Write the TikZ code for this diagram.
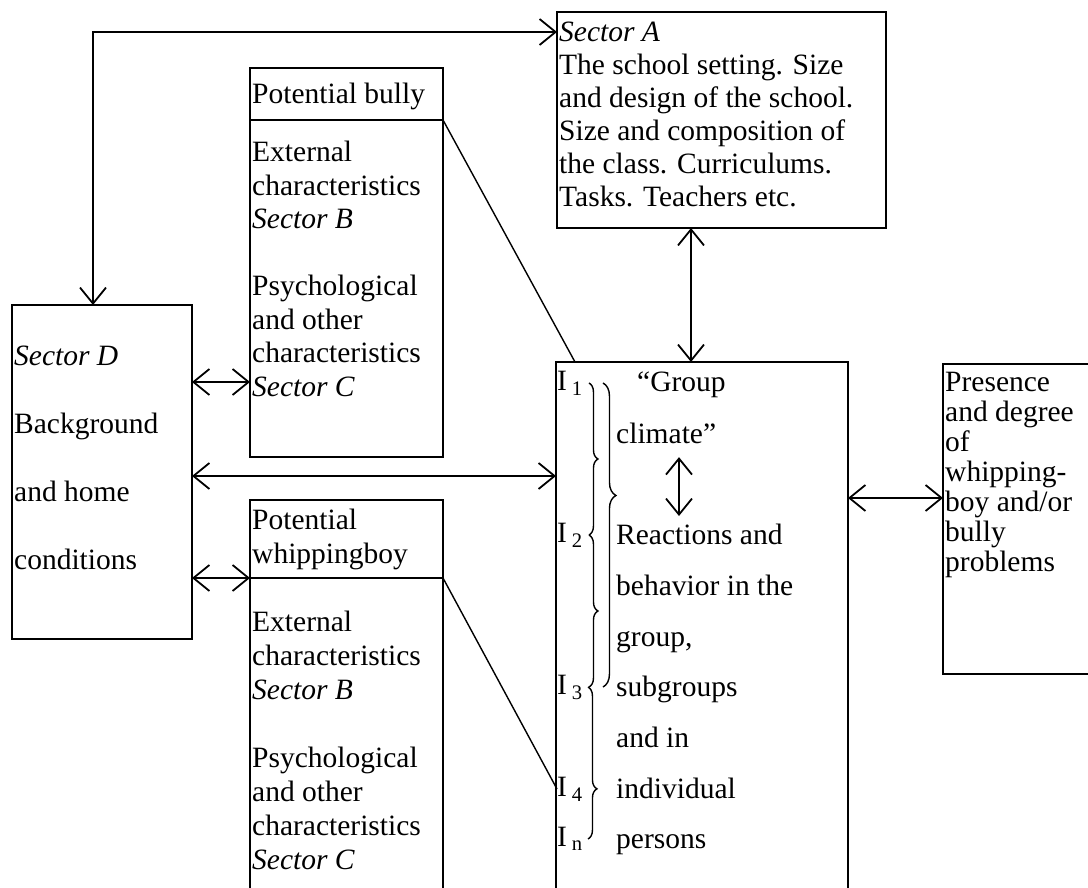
\documentclass[tikz,border=0pt]{standalone}
\usepackage{fontspec}
\setmainfont{Liberation Serif}
\usetikzlibrary{arrows.meta, decorations.pathreplacing}

\tikzset{
  box/.style={draw, line width=2.4pt, inner sep=0pt, outer sep=0pt, anchor=north west},
  txt/.style={inner sep=0pt, anchor=north west, align=left, font=\fontsize{29.5}{#1}\selectfont},
  ilab/.style={inner sep=0pt, anchor=west, font=\fontsize{29.5}{34}\selectfont},
  dbl/.style={{Straight Barb[length=16pt,width=26pt]}-{Straight Barb[length=16pt,width=26pt]}, line width=1.8pt},
  link/.style={line width=1.4pt},
  brc/.style={decorate, decoration={brace, amplitude=#1}, line width=1.4pt},
}

\begin{document}
\begin{tikzpicture}[x=1pt, y=-1pt]
  \useasboundingbox (0,0) rectangle (1088,888);

  \node[box, minimum width=329pt, minimum height=216pt] (secA) at (557,12) {};
  \node[box, minimum width=193pt, minimum height=52pt] (bullyhead) at (250,68) {};
  \node[box, minimum width=193pt, minimum height=337pt] (bullybody) at (250,120) {};
  \node[box, minimum width=193pt, minimum height=78pt] (whiphead) at (250,500) {};
  \node[box, minimum width=193pt, minimum height=330pt] (whipbody) at (250,578) {};
  \node[box, minimum width=180pt, minimum height=334pt] (secD) at (12,305) {};
  \node[box, minimum width=292pt, minimum height=546pt] (central) at (556,362) {};
  \node[box, minimum width=160pt, minimum height=310pt] (result) at (943,364) {};

  \node[txt=33] (secAtxt) at (559,22) {\textit{Sector A}\\The school setting. Size\\and design of the school.\\Size and composition of\\the class. Curriculums.\\Tasks. Teachers etc.};
  \node[txt=34] (bullytitle) at (252,83) {Potential bully};
  \node[txt=33.5] (bullytxt) at (252,141) {External\\characteristics\\\textit{Sector B}\\[33.5pt]Psychological\\and other\\characteristics\\\textit{Sector C}};
  \node[txt=34] (whiptitle) at (252,509) {Potential\\whippingboy};
  \node[txt=34] (whiptxt) at (252,611) {External\\characteristics\\\textit{Sector B}\\[34pt]Psychological\\and other\\characteristics\\\textit{Sector C}};
  \node[txt=68] (secDtxt) at (14,346) {\textit{Sector D}\\Background\\and home\\conditions};
  \node[txt=34] (grp) at (637,372) {“Group};
  \node[txt=34] (clim) at (616,423) {climate”};
  \node[txt=50.7] (react) at (616,524) {Reactions and\\behavior in the\\group,\\subgroups\\and in\\individual\\persons};
  \node[txt=30] (resulttxt) at (945,372) {Presence\\and degree\\of\\whipping-\\boy and/or\\bully\\problems};

  \node[ilab] (i1) at (557,383) {I\,\textsubscript{1}};
  \node[ilab] (i2) at (557,535) {I\,\textsubscript{2}};
  \node[ilab] (i3) at (557,687) {I\,\textsubscript{3}};
  \node[ilab] (i4) at (557,789) {I\,\textsubscript{4}};
  \node[ilab] (in) at (557,839) {I\,\textsubscript{n}};

  \draw[brc=9pt] ([xshift=6pt]i1.east) -- ([xshift=6pt]i2.east);
  \draw[brc=9pt] ([xshift=6pt]i2.east) -- ([xshift=6pt]i3.east);
  \draw[decorate, decoration={brace, amplitude=13pt, aspect=0.37}, line width=1.4pt]
        ([xshift=20pt]i1.east) -- ([xshift=20pt]i3.east);
  \draw[decorate, decoration={brace, amplitude=9pt, aspect=0.67}, line width=1.4pt]
        ([xshift=5pt]i3.east) -- ([xshift=5pt]in.east);

  \coordinate (bend) at (93,32);
  \coordinate (aup) at (691,300);
  \coordinate (dmid) at (300,476);
  \coordinate (dtop) at (200,382);
  \coordinate (rmid) at (900,498);
  \coordinate (arrx) at (679,450);
  \draw[dbl] (secD.north -| bend) -- (bend) -- (bend -| secA.west);
  \draw[dbl] (secA.south -| aup) -- (central.north -| aup);
  \draw[dbl] (secD.east |- dtop) -- (bullybody.west |- dtop);
  \draw[dbl] (secD.east |- dmid) -- (central.west |- dmid);
  \draw[dbl] (secD.east |- whiphead.south) -- (whiphead.south west);
  \draw[dbl] (central.east |- rmid) -- (result.west |- rmid);
  \draw[dbl] ([yshift=-13pt]clim.south -| arrx) -- ([yshift=8pt]react.north -| arrx);

  \draw[link] (bullyhead.south east) -- ([xshift=19pt]central.north west);
  \draw[link] (whiphead.south east) -- (i4.west);
\end{tikzpicture}
\end{document}
